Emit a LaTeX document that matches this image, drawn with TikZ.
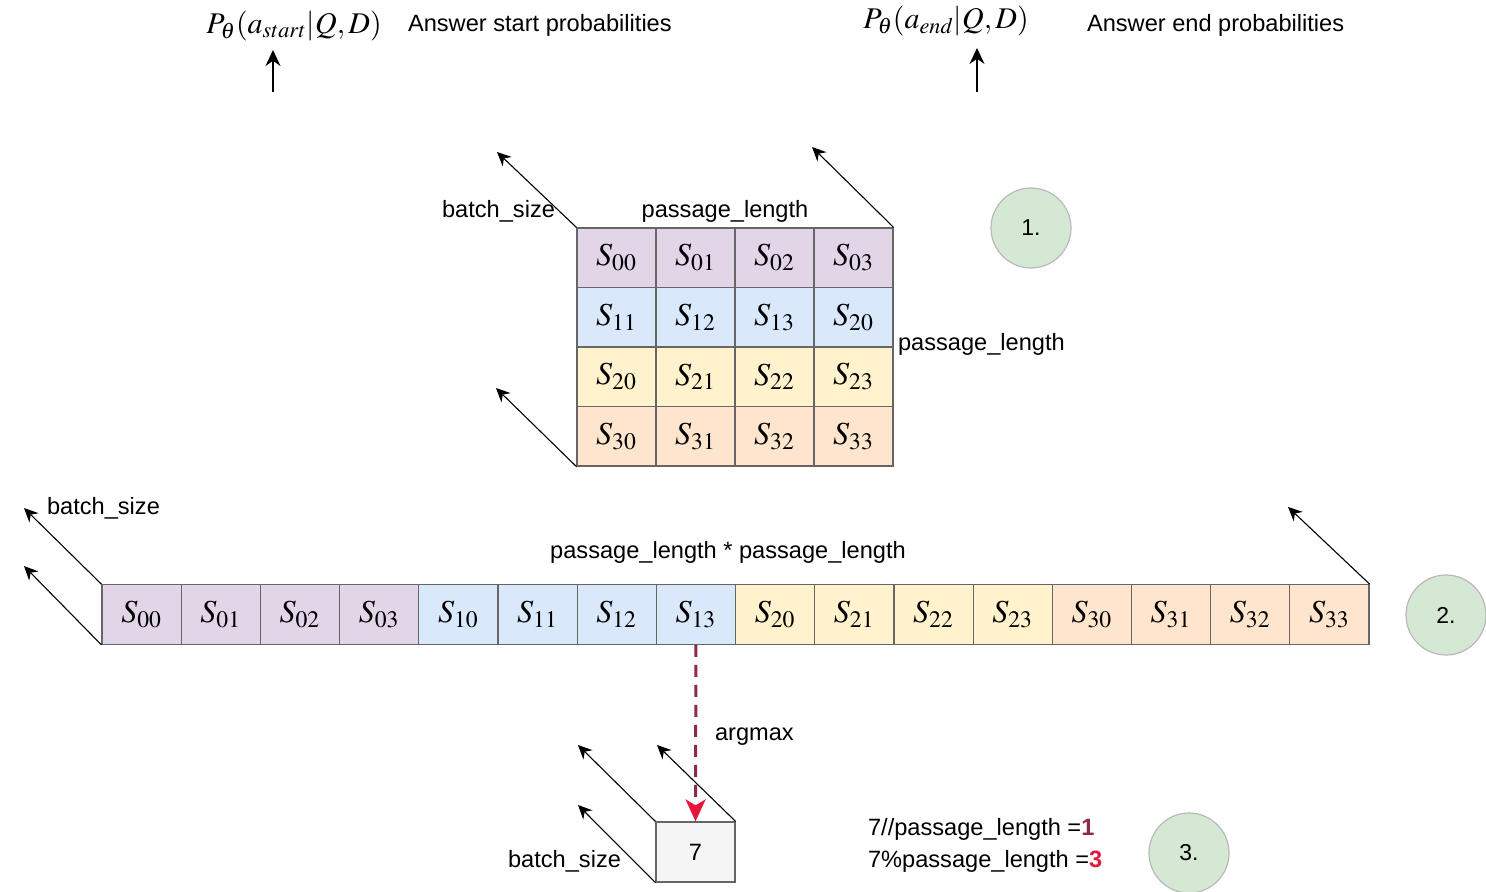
\documentclass[tikz,border=0pt]{standalone}
\usepackage{xcolor}
\usepackage{mathptmx}
\usepackage[no-math]{fontspec}
\setmainfont{Liberation Sans}
\usepackage{tikz}
\usetikzlibrary{positioning,arrows.meta}

\definecolor{cpurple}{HTML}{E1D5E7}
\definecolor{cblue}{HTML}{DAE8FC}
\definecolor{cyellow}{HTML}{FFF2CC}
\definecolor{cpeach}{HTML}{FFE4CE}
\definecolor{cgreen}{HTML}{D5E8D4}
\definecolor{argred}{HTML}{8E2A45}
\definecolor{tipred}{HTML}{E4173A}
\colorlet{crow0}{cpurple}
\colorlet{crow1}{cblue}
\colorlet{crow2}{cyellow}
\colorlet{crow3}{cpeach}

\begin{document}
\begin{tikzpicture}[
    x=0.5pt, y=-0.5pt,
    every node/.style={font=\fontsize{11.8}{14}\selectfont},
    cell/.style={draw=gray!80!black, line width=0.6pt, inner sep=0pt,
                 minimum width=39.5pt, minimum height=29.75pt,
                 font=\fontsize{16}{18}\selectfont},
    formula/.style={font=\fontsize{15}{18}\selectfont, inner sep=1pt},
    stepno/.style={circle, draw=gray!55, fill=cgreen, line width=0.6pt,
                   minimum size=40pt, font=\fontsize{11.5}{14}\selectfont},
    arrow/.style={-{Stealth[length=8pt,width=7.5pt]}, line width=0.7pt},
    axis/.style={-{Stealth[length=7pt,width=6.5pt]}, line width=0.55pt},
    argline/.style={argred, line width=1.5pt, dash pattern=on 6pt off 4pt,
                    -{Stealth[length=11pt,width=10pt,inset=3pt,color=tipred]}},
]
\useasboundingbox (0,0) rectangle (1486,892);

% Outputs
\node[formula] (pstart) at (294,26) {$P_\theta(a_{start}|Q,D)$};
\node[anchor=west] (pstartTxt) at (401,25) {Answer start probabilities};
\node[formula] (pend) at (946,21) {$P_\theta(a_{end}|Q,D)$};
\node[anchor=west] (pendTxt) at (1080,25) {Answer end probabilities};
\coordinate (startIn) at (273,92);
\coordinate (endIn) at (977,92);
\draw[arrow] (startIn) -- (startIn |- 0,50);
\draw[arrow] (endIn) -- (endIn |- 0,48);

% Score matrix
\foreach \lab [count=\k from 0] in {00,01,02,03,11,12,13,20,20,21,22,23,30,31,32,33} {
  \pgfmathtruncatemacro\row{\k/4}
  \pgfmathtruncatemacro\col{mod(\k,4)}
  \node[cell, fill=crow\row] (m\row\col)
      at ({577+79*(\col+0.5)},{228+59.5*(\row+0.5)}) {$S_{\lab}$};
}
\coordinate (mBatch) at (497,152);
\coordinate (mLen) at (812,147);
\coordinate (mLow) at (496,388);
\draw[axis] (m00.north west) -- (mBatch);
\draw[axis] (m03.north east) -- (mLen);
\draw[axis] (m30.south west) -- (mLow);
\node[anchor=east] (mBatchLbl) at (562,211) {batch\_size};
\node (mColLbl) at (725,211) {passage\_length};
\node[anchor=west] (mRowLbl) at (891,344) {passage\_length};
\node[stepno] (one) at (1031,228) {1.};

% Flattened scores
\foreach \lab [count=\k from 0] in {00,01,02,03,10,11,12,13,20,21,22,23,30,31,32,33} {
  \pgfmathtruncatemacro\row{\k/4}
  \node[cell, fill=crow\row, minimum width=39.6pt] (r\k)
      at ({102+79.19*(\k+0.5)},614.5) {$S_{\lab}$};
}
\coordinate (rBatch) at (24,508);
\coordinate (rLow) at (24,566);
\coordinate (rLen) at (1288,507);
\draw[axis] (r0.north west) -- (rBatch);
\draw[axis] (r0.south west) -- (rLow);
\draw[axis] (r15.north east) -- (rLen);
\node[anchor=west] (rBatchLbl) at (40,508) {batch\_size};
\node (rLenLbl) at (728,552) {passage\_length * passage\_length};
\node[stepno] (two) at (1446,615) {2.};

% Argmax result
\node[draw=gray!80!black, fill=gray!8, line width=0.6pt,
      minimum width=39.5pt, minimum height=30pt] (seven) at (695.5,852) {7};
\draw[argline] (r7.south) -- (seven.north);
\node[anchor=west] (argLbl) at (708,737) {argmax};
\coordinate (sBatch) at (578,745);
\coordinate (sLen) at (657,745);
\coordinate (sLow) at (578,805);
\draw[axis] (seven.north west) -- (sBatch);
\draw[axis] (seven.north east) -- (sLen);
\draw[axis] (seven.south west) -- (sLow);
\node[anchor=east] (sBatchLbl) at (628,861) {batch\_size};
\node[anchor=west] (divLbl) at (861,829)
    {7//passage\_length =\textcolor{argred}{\bfseries 1}};
\node[anchor=west] (modLbl) at (861,861)
    {7\%passage\_length =\textcolor{tipred}{\bfseries 3}};
\node[stepno] (three) at (1189,853) {3.};
\end{tikzpicture}
\end{document}
